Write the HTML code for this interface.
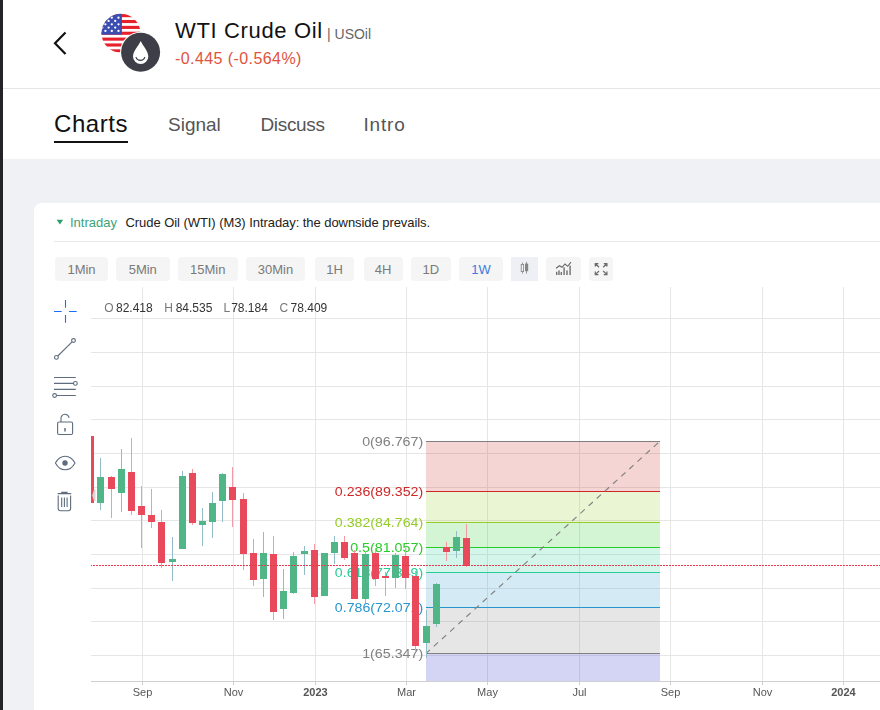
<!DOCTYPE html>
<html><head><meta charset="utf-8"><title>WTI Crude Oil</title>
<style>
html,body{margin:0;padding:0;}
body{width:880px;height:710px;overflow:hidden;position:relative;background:#f0f1f5;font-family:"Liberation Sans",sans-serif;}
.abs{position:absolute;}
#lbar{left:0;top:0;width:3px;height:710px;background:#242428;}
#hdr{left:3px;top:0;width:877px;height:159px;background:#fff;}
#sep{left:3px;top:88px;width:877px;height:1px;background:#e6e6ea;}
#title{left:175px;top:18px;font-size:22px;line-height:26px;color:#111;white-space:nowrap;letter-spacing:0.65px;}
#sym{left:327px;top:26px;font-size:14px;line-height:16px;color:#666;white-space:nowrap;}
#chg{left:175px;top:50px;font-size:16px;line-height:18px;color:#e0533d;white-space:nowrap;letter-spacing:0.42px;}
.tab{position:absolute;top:113.8px;font-size:19px;line-height:22px;color:#555;white-space:nowrap;}
#tab0{left:54px;top:109.8px;font-size:24px;line-height:28px;color:#111;letter-spacing:0.55px;}
#uline{left:54px;top:141px;width:74px;height:2px;background:#111;}
#card{left:34px;top:203px;width:900px;height:600px;background:#fff;border-radius:8px;}
#intr{left:70px;top:215px;font-size:13px;line-height:16px;color:#3aa37a;white-space:nowrap;}
#desc{left:125.5px;top:215px;font-size:13px;line-height:16px;color:#222;white-space:nowrap;letter-spacing:-0.06px;}
#div2{left:54px;top:241px;width:826px;height:1px;background:#e9e9e9;}
.tb{position:absolute;top:257px;height:24px;line-height:25.5px;background:#f5f5f5;border-radius:4px;color:#7a7a7a;font-size:13px;text-align:center;}
.tb.act{color:#3b7de0;}
.ib{position:absolute;top:257px;height:24px;background:#f5f5f5;border-radius:4px;}
svg text{font-family:"Liberation Sans",sans-serif;}
</style></head><body>
<div id="hdr" class="abs"></div>
<div id="lbar" class="abs"></div>
<div id="sep" class="abs"></div>
<svg class="abs" style="left:0;top:0" width="880" height="90" viewBox="0 0 880 90">
<path d="M65.5 32.5 L55 43.2 L65.5 54" fill="none" stroke="#111" stroke-width="2.2"/>
<defs><clipPath id="fc"><circle cx="121" cy="33.3" r="19.5"/></clipPath></defs>
<g clip-path="url(#fc)">
<rect x="100" y="12" width="42" height="42" fill="#fff"/>
<g fill="#e8202c"><rect x="100" y="14.10" width="42" height="3.1"/><rect x="100" y="19.97" width="42" height="3.1"/><rect x="100" y="25.84" width="42" height="3.1"/><rect x="100" y="31.71" width="42" height="3.1"/><rect x="100" y="37.58" width="42" height="3.1"/><rect x="100" y="43.45" width="42" height="3.1"/><rect x="100" y="49.32" width="42" height="3.1"/></g>
<rect x="100" y="12" width="21.9" height="22.6" fill="#3b4db0"/>
<g fill="#fff"><circle cx="111.8" cy="17.7" r="1.15"/><circle cx="118.5" cy="17.7" r="1.15"/><circle cx="108.6" cy="20.9" r="1.15"/><circle cx="115.2" cy="20.9" r="1.15"/><circle cx="105.4" cy="24.3" r="1.15"/><circle cx="111.8" cy="24.3" r="1.15"/><circle cx="118.5" cy="24.3" r="1.15"/><circle cx="108.6" cy="27.6" r="1.15"/><circle cx="115.2" cy="27.6" r="1.15"/><circle cx="105.4" cy="30.9" r="1.15"/><circle cx="111.8" cy="30.9" r="1.15"/><circle cx="118.5" cy="30.9" r="1.15"/><circle cx="102.5" cy="21" r="1.15"/><circle cx="102.3" cy="27.6" r="1.15"/></g>
</g>
<circle cx="140.6" cy="52.3" r="20.6" fill="#fff"/>
<circle cx="140.6" cy="52.3" r="19.5" fill="#3e3e48"/>
<path d="M140.7 41 C138.6 45.8 133 51 133 56.4 A7.65 7.65 0 0 0 148.3 56.4 C148.3 51 142.8 45.8 140.7 41 Z" fill="#fff"/>
<path d="M136 57.4 A4.6 4.2 0 0 0 144.8 57.4" fill="none" stroke="#3e3e48" stroke-width="1.1" stroke-linecap="round"/>
</svg>
<div id="title" class="abs">WTI Crude Oil</div>
<div id="sym" class="abs">| USOil</div>
<div id="chg" class="abs">-0.445 (-0.564%)</div>
<div id="tab0" class="abs">Charts</div>
<div id="uline" class="abs"></div>
<div class="tab" style="left:168px">Signal</div>
<div class="tab" style="left:260.5px;letter-spacing:-0.35px">Discuss</div>
<div class="tab" style="left:363.5px;letter-spacing:0.8px">Intro</div>

<div id="card" class="abs"></div>
<svg class="abs" style="left:56px;top:219px" width="8" height="6" viewBox="0 0 8 6"><path d="M0.6 0.8 L7.2 0.8 L3.9 5.4 Z" fill="#2e9e6e"/></svg>
<div id="intr" class="abs">Intraday</div>
<div id="desc" class="abs">Crude Oil (WTI) (M3) Intraday: the downside prevails.</div>
<div id="div2" class="abs"></div>
<div class="tb" style="left:55px;width:53px">1Min</div>
<div class="tb" style="left:116px;width:53.5px">5Min</div>
<div class="tb" style="left:178px;width:59.5px">15Min</div>
<div class="tb" style="left:246px;width:59px">30Min</div>
<div class="tb" style="left:315px;width:39px">1H</div>
<div class="tb" style="left:363.5px;width:39px">4H</div>
<div class="tb" style="left:411px;width:39.5px">1D</div>
<div class="tb act" style="left:459px;width:44px">1W</div>
<div class="ib" style="left:511px;width:27px;background:#eef0f6;border-radius:0"></div>
<div class="ib" style="left:546px;width:35px;"></div>
<div class="ib" style="left:589px;width:24px;"></div>

<svg class="abs" style="left:0;top:250px;will-change:transform" width="880" height="460" viewBox="0 250 880 460">
<g shape-rendering="crispEdges">
<rect x="142" y="287" width="1" height="394" fill="#e6e6e6"/>
<rect x="233" y="287" width="1" height="394" fill="#e6e6e6"/>
<rect x="315" y="287" width="1" height="394" fill="#e6e6e6"/>
<rect x="406" y="287" width="1" height="394" fill="#e6e6e6"/>
<rect x="487" y="287" width="1" height="394" fill="#e6e6e6"/>
<rect x="579" y="287" width="1" height="394" fill="#e6e6e6"/>
<rect x="670" y="287" width="1" height="394" fill="#e6e6e6"/>
<rect x="762" y="287" width="1" height="394" fill="#e6e6e6"/>
<rect x="843" y="287" width="1" height="394" fill="#e6e6e6"/>
<rect x="91" y="318" width="789" height="1" fill="#e6e6e6"/>
<rect x="91" y="352" width="789" height="1" fill="#e6e6e6"/>
<rect x="91" y="386" width="789" height="1" fill="#e6e6e6"/>
<rect x="91" y="419" width="789" height="1" fill="#e6e6e6"/>
<rect x="91" y="453" width="789" height="1" fill="#e6e6e6"/>
<rect x="91" y="487" width="789" height="1" fill="#e6e6e6"/>
<rect x="91" y="520" width="789" height="1" fill="#e6e6e6"/>
<rect x="91" y="554" width="789" height="1" fill="#e6e6e6"/>
<rect x="91" y="588" width="789" height="1" fill="#e6e6e6"/>
<rect x="91" y="621" width="789" height="1" fill="#e6e6e6"/>
<rect x="91" y="655" width="789" height="1" fill="#e6e6e6"/>
<rect x="91" y="681" width="789" height="1" fill="#cfcfcf"/>
</g>
<!-- toolbar button icons -->
<g id="ticons">
<g fill="#858585">
<rect x="522" y="262.6" width="0.8" height="11"/><rect x="521.2" y="264.4" width="2.4" height="7.2" fill="#eef0f6" stroke="#858585" stroke-width="0.8"/>
<rect x="526.2" y="261.8" width="0.8" height="11.8"/><rect x="525" y="263.6" width="3.2" height="7.6"/>
</g>
<g fill="#707070">
<rect x="556" y="271.8" width="1.4" height="3.2"/><rect x="558.3" y="270.4" width="1.4" height="4.6"/><rect x="560.6" y="272" width="1.4" height="3"/><rect x="563.4" y="267.3" width="1.4" height="7.7"/><rect x="566.3" y="270.4" width="1.4" height="4.6"/><rect x="569.4" y="265.6" width="1.4" height="9.4"/>
</g>
<path d="M556 268.2 L559.5 265.7 L562 267.3 L565 264 L567.7 266.3 L571 262.2" fill="none" stroke="#666" stroke-width="1.05"/>
<g fill="none" stroke="#6c6c6c" stroke-width="1.25">
<path d="M595.3 266.6 V263.5 H598.4 M595.6 263.8 L599 267.2"/>
<path d="M606.9 266.6 V263.5 H603.8 M606.6 263.8 L603.2 267.2"/>
<path d="M595.3 271.6 V274.7 H598.4 M595.6 274.4 L599 271"/>
<path d="M606.9 271.6 V274.7 H603.8 M606.6 274.4 L603.2 271"/>
</g>
</g>
<!-- left tools -->
<g fill="none" stroke="#1a6dff" stroke-width="1.1">
<path d="M65.5 300 V307.7 M65.5 315 V322.7 M54 311.5 H61.7 M69 311.5 H76.7"/>
</g>
<g fill="none" stroke="#5d6d7e" stroke-width="1.1">
<circle cx="56.4" cy="357.4" r="1.9"/><circle cx="73.5" cy="340.5" r="1.9"/><path d="M57.8 356 L72.1 341.9"/>
<path d="M54 377.5 H75.8 M54 383.4 H73.6 M54 389.4 H75.8 M56.5 395.5 H75.8"/>
<circle cx="75.4" cy="383.4" r="1.9" fill="#fff"/><circle cx="54.6" cy="395.5" r="1.9" fill="#fff"/>
<rect x="57.6" y="422" width="15" height="12.5" rx="1.5"/>
<path d="M61 422 V418.5 A4 4 0 0 1 69 418 "/>
<path d="M65 428 V431.6" stroke-width="1.5"/>
<path d="M55.4 463 C58.2 457.8 62 456.2 65.2 456.2 C68.4 456.2 72.2 457.8 75 463 C72.2 468.2 68.4 469.8 65.2 469.8 C62 469.8 58.2 468.2 55.4 463 Z"/>
<circle cx="65" cy="463" r="2.7" fill="#5d6d7e" stroke="none"/>
<path d="M57.6 493.6 H71.2 M61.2 492.4 H67.6" stroke-width="1.3"/>
<path d="M58.2 495.5 V508.5 A2.2 2.2 0 0 0 60.4 510.7 H68.4 A2.2 2.2 0 0 0 70.6 508.5 V495.5"/>
<path d="M61.7 497.5 V507 M64.4 497.5 V507 M67.1 497.5 V507"/>
</g>
<!-- OHLC -->
<g font-size="12">
<text x="104.3" y="312" fill="#777">O</text><text x="116" y="312" fill="#333">82.418</text>
<text x="164.2" y="312" fill="#777">H</text><text x="175.7" y="312" fill="#333">84.535</text>
<text x="223.5" y="312" fill="#777">L</text><text x="231.2" y="312" fill="#333">78.184</text>
<text x="279.6" y="312" fill="#777">C</text><text x="290.6" y="312" fill="#333">78.409</text>
</g>
<g shape-rendering="crispEdges">
<rect x="426" y="441.6" width="233.5" height="49.6" fill="#cc2828" fill-opacity="0.2"/>
<rect x="426" y="491.2" width="233.5" height="30.8" fill="#95cc28" fill-opacity="0.2"/>
<rect x="426" y="522" width="233.5" height="25.2" fill="#28cc28" fill-opacity="0.2"/>
<rect x="426" y="547.2" width="233.5" height="25.1" fill="#28cc95" fill-opacity="0.2"/>
<rect x="426" y="572.3" width="233.5" height="35.2" fill="#2895cc" fill-opacity="0.2"/>
<rect x="426" y="607.5" width="233.5" height="45.9" fill="#808080" fill-opacity="0.2"/>
<rect x="426" y="653.4" width="233.5" height="27.1" fill="#2828cc" fill-opacity="0.2"/>
<line x1="426" y1="441.6" x2="659.5" y2="441.6" stroke="#808080" stroke-width="1"/>
<line x1="426" y1="491.2" x2="659.5" y2="491.2" stroke="#cc2828" stroke-width="1"/>
<line x1="426" y1="522" x2="659.5" y2="522" stroke="#95cc28" stroke-width="1"/>
<line x1="426" y1="547.2" x2="659.5" y2="547.2" stroke="#28cc28" stroke-width="1"/>
<line x1="426" y1="572.3" x2="659.5" y2="572.3" stroke="#28cc95" stroke-width="1"/>
<line x1="426" y1="607.5" x2="659.5" y2="607.5" stroke="#2895cc" stroke-width="1"/>
<line x1="426" y1="653.4" x2="659.5" y2="653.4" stroke="#808080" stroke-width="1"/>
</g>
<line x1="426" y1="653.4" x2="659.5" y2="441.6" stroke="#808080" stroke-width="1.15" stroke-dasharray="5.8 5.2" stroke-dashoffset="0.5"/>
<text x="362.15" y="445.7" font-size="12" textLength="61.05" lengthAdjust="spacingAndGlyphs" fill="#808080">0(96.767)</text>
<text x="334.89" y="495.8" font-size="12" textLength="88.31" lengthAdjust="spacingAndGlyphs" fill="#cc2828">0.236(89.352)</text>
<text x="334.89" y="527" font-size="12" textLength="88.31" lengthAdjust="spacingAndGlyphs" fill="#95cc28">0.382(84.764)</text>
<text x="350.15" y="552.1" font-size="12" textLength="73.05" lengthAdjust="spacingAndGlyphs" fill="#28cc28">0.5(81.057)</text>
<text x="334.89" y="577" font-size="12" textLength="88.31" lengthAdjust="spacingAndGlyphs" fill="#28cc95">0.618(77.349)</text>
<text x="334.89" y="612.1" font-size="12" textLength="88.31" lengthAdjust="spacingAndGlyphs" fill="#2895cc">0.786(72.071)</text>
<text x="362.15" y="657.5" font-size="12" textLength="61.05" lengthAdjust="spacingAndGlyphs" fill="#808080">1(65.347)</text>
<g shape-rendering="crispEdges">
<rect x="91" y="436" width="3" height="67" fill="#e94a5b"/>
<rect x="100" y="458" width="1" height="52" fill="#93bcc8"/>
<rect x="97" y="477" width="7" height="26" fill="#50b687"/>
<rect x="111" y="476" width="1" height="42" fill="#f29ba6"/>
<rect x="108" y="477" width="7" height="12" fill="#e94a5b"/>
<rect x="121" y="449" width="1" height="63" fill="#93bcc8"/>
<rect x="118" y="469" width="7" height="24" fill="#50b687"/>
<rect x="131" y="438" width="1" height="77" fill="#f29ba6"/>
<rect x="128" y="472" width="7" height="39" fill="#e94a5b"/>
<rect x="141" y="486" width="1" height="62" fill="#f29ba6"/>
<rect x="138" y="506" width="7" height="9" fill="#e94a5b"/>
<rect x="151" y="489" width="1" height="39" fill="#f29ba6"/>
<rect x="148" y="515" width="7" height="7" fill="#e94a5b"/>
<rect x="161" y="510" width="1" height="57.5" fill="#f29ba6"/>
<rect x="158" y="522" width="7" height="41" fill="#e94a5b"/>
<rect x="172" y="537" width="1" height="43.6" fill="#93bcc8"/>
<rect x="169" y="559" width="7" height="3" fill="#50b687"/>
<rect x="182" y="471" width="1" height="78" fill="#93bcc8"/>
<rect x="179" y="476" width="7" height="73" fill="#50b687"/>
<rect x="192" y="469" width="1" height="56" fill="#f29ba6"/>
<rect x="189" y="473" width="7" height="50" fill="#e94a5b"/>
<rect x="202" y="508" width="1" height="38" fill="#93bcc8"/>
<rect x="199" y="521" width="7" height="4" fill="#50b687"/>
<rect x="212" y="492" width="1" height="46" fill="#93bcc8"/>
<rect x="209" y="503" width="7" height="19" fill="#50b687"/>
<rect x="222" y="473" width="1" height="49" fill="#93bcc8"/>
<rect x="219" y="474" width="7" height="27" fill="#50b687"/>
<rect x="232" y="467" width="1" height="60" fill="#f29ba6"/>
<rect x="229" y="487" width="7" height="13" fill="#e94a5b"/>
<rect x="243" y="493" width="1" height="77" fill="#f29ba6"/>
<rect x="240" y="499" width="7" height="55" fill="#e94a5b"/>
<rect x="253" y="539" width="1" height="47" fill="#f29ba6"/>
<rect x="250" y="553" width="7" height="27" fill="#e94a5b"/>
<rect x="263" y="532" width="1" height="65" fill="#93bcc8"/>
<rect x="260" y="553" width="7" height="26" fill="#50b687"/>
<rect x="273" y="536" width="1" height="84" fill="#f29ba6"/>
<rect x="270" y="554" width="7" height="57.5" fill="#e94a5b"/>
<rect x="283" y="569" width="1" height="50" fill="#93bcc8"/>
<rect x="280" y="591" width="7" height="18" fill="#50b687"/>
<rect x="293" y="552" width="1" height="42" fill="#93bcc8"/>
<rect x="290" y="556" width="7" height="37" fill="#50b687"/>
<rect x="304" y="546" width="1" height="29" fill="#93bcc8"/>
<rect x="301" y="551" width="7" height="3" fill="#50b687"/>
<rect x="314" y="544" width="1" height="60" fill="#f29ba6"/>
<rect x="311" y="550" width="7" height="47" fill="#e94a5b"/>
<rect x="324" y="553" width="1" height="43" fill="#93bcc8"/>
<rect x="321" y="553" width="7" height="43" fill="#50b687"/>
<rect x="334" y="536" width="1" height="28" fill="#93bcc8"/>
<rect x="331" y="542" width="7" height="11" fill="#50b687"/>
<rect x="344" y="536" width="1" height="24" fill="#f29ba6"/>
<rect x="341" y="542" width="7" height="16" fill="#e94a5b"/>
<rect x="354" y="550" width="1" height="49" fill="#f29ba6"/>
<rect x="351" y="553" width="7" height="46" fill="#e94a5b"/>
<rect x="365" y="551" width="1" height="52" fill="#93bcc8"/>
<rect x="362" y="554" width="7" height="45" fill="#50b687"/>
<rect x="375" y="548" width="1" height="38" fill="#f29ba6"/>
<rect x="372" y="553" width="7" height="26" fill="#e94a5b"/>
<rect x="385" y="572" width="1" height="24" fill="#f29ba6"/>
<rect x="382" y="576" width="7" height="2" fill="#e94a5b"/>
<rect x="395" y="553" width="1" height="35" fill="#93bcc8"/>
<rect x="392" y="555" width="7" height="23" fill="#50b687"/>
<rect x="405" y="548" width="1" height="41" fill="#f29ba6"/>
<rect x="402" y="556" width="7" height="22" fill="#e94a5b"/>
<rect x="415" y="571" width="1" height="80" fill="#f29ba6"/>
<rect x="412" y="576" width="7" height="70" fill="#e94a5b"/>
<rect x="426" y="610" width="1" height="48" fill="#93bcc8"/>
<rect x="423" y="626" width="7" height="17" fill="#50b687"/>
<rect x="436" y="583" width="1" height="44" fill="#93bcc8"/>
<rect x="433" y="584" width="7" height="40" fill="#50b687"/>
<rect x="446" y="542" width="1" height="19" fill="#f29ba6"/>
<rect x="443" y="547" width="7" height="5" fill="#e94a5b"/>
<rect x="456" y="531" width="1" height="27" fill="#93bcc8"/>
<rect x="453" y="537" width="7" height="14" fill="#50b687"/>
<rect x="466" y="524" width="1" height="43" fill="#f29ba6"/>
<rect x="463" y="538" width="7" height="28" fill="#e94a5b"/>
</g>
<path d="M92.2 495.5 L94 489.5 L95.5 489.5 L95.5 501 L94 501 Z" fill="#d6d6d6"/>
<line x1="91" y1="565.5" x2="880" y2="565.5" stroke="#e8394e" stroke-width="1" stroke-dasharray="2 1" stroke-dashoffset="1" shape-rendering="crispEdges"/>
<rect x="142" y="681" width="1" height="4" fill="#cfcfcf"/>
<text x="142.5" y="696" text-anchor="middle" font-size="11" fill="#555">Sep</text>
<rect x="233" y="681" width="1" height="4" fill="#cfcfcf"/>
<text x="233.5" y="696" text-anchor="middle" font-size="11" fill="#555">Nov</text>
<rect x="315" y="681" width="1" height="4" fill="#cfcfcf"/>
<text x="315.5" y="696" text-anchor="middle" font-size="11" fill="#555" font-weight="bold">2023</text>
<rect x="406" y="681" width="1" height="4" fill="#cfcfcf"/>
<text x="406.5" y="696" text-anchor="middle" font-size="11" fill="#555">Mar</text>
<rect x="487" y="681" width="1" height="4" fill="#cfcfcf"/>
<text x="487.5" y="696" text-anchor="middle" font-size="11" fill="#555">May</text>
<rect x="579" y="681" width="1" height="4" fill="#cfcfcf"/>
<text x="579.5" y="696" text-anchor="middle" font-size="11" fill="#555">Jul</text>
<rect x="670" y="681" width="1" height="4" fill="#cfcfcf"/>
<text x="670.5" y="696" text-anchor="middle" font-size="11" fill="#555">Sep</text>
<rect x="762" y="681" width="1" height="4" fill="#cfcfcf"/>
<text x="762.5" y="696" text-anchor="middle" font-size="11" fill="#555">Nov</text>
<rect x="843" y="681" width="1" height="4" fill="#cfcfcf"/>
<text x="843.5" y="696" text-anchor="middle" font-size="11" fill="#555" font-weight="bold">2024</text>
</svg>
</body></html>
